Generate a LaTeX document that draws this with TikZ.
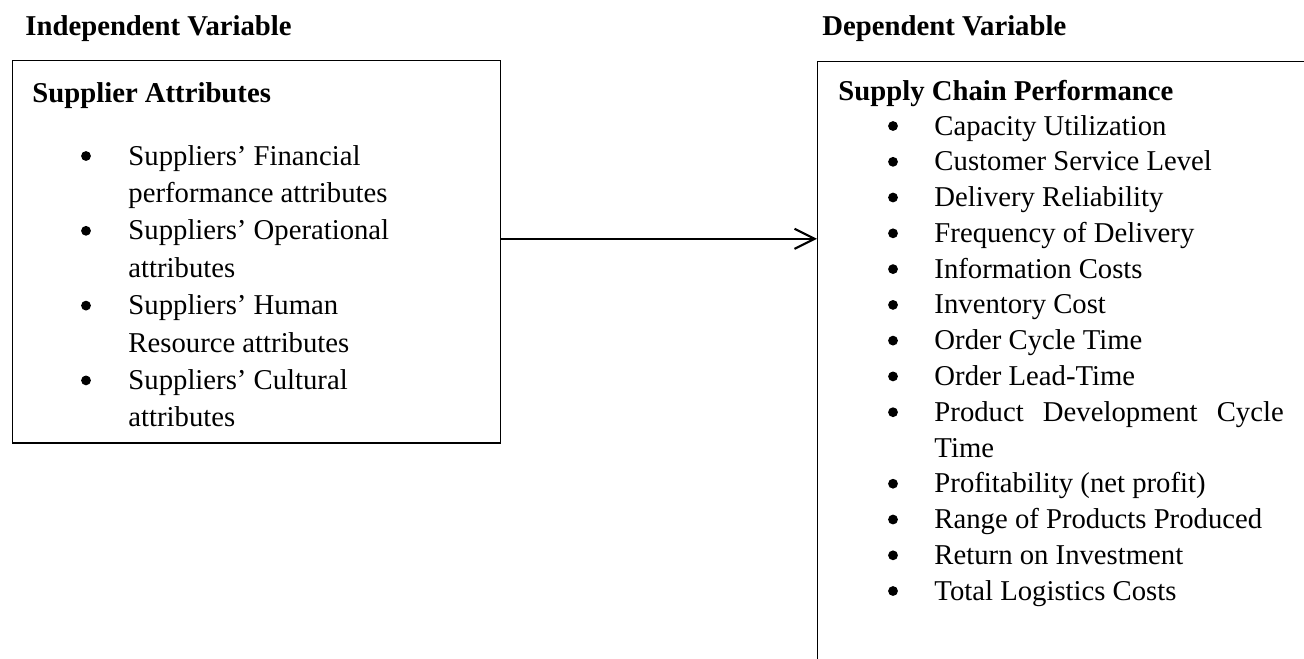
\documentclass[tikz,border=0pt]{standalone}
\usepackage{fontspec}
\setmainfont{Liberation Serif}
\usetikzlibrary{arrows.meta}

\tikzset{
    frame/.style={draw, line width=0.6pt, anchor=north west, inner sep=0pt},
    heading/.style={anchor=base west, inner sep=0pt, font=\fontsize{12}{14}\selectfont\bfseries},
    entry/.style={anchor=base west, inner sep=0pt, font=\fontsize{12}{14}\selectfont},
    dot/.style={circle, fill, inner sep=0pt, minimum size=4.1pt},
    link/.style={-{Straight Barb[length=8.4pt, width=8.4pt]}, line width=0.9pt}
}

\begin{document}
\begin{tikzpicture}[x=0.418pt, y=-0.418pt]
    \useasboundingbox (0,0) rectangle (1304,658);
    \clip (0,0) rectangle (1304,658);
    % Headings
    \node[heading] (indep) at (25,35) {Independent Variable};
    \node[heading] (dep) at (822,35) {Dependent Variable};
    % Boxes
    \node[frame, minimum width=204pt, minimum height=159.7pt] (suppbox) at (12,60) {};
    \node[frame, minimum width=220pt, minimum height=260pt] (perfbox) at (817,61) {};
    % Left box: supplier attributes
    \node[heading] (supptitle) at (32,102) {Supplier Attributes};
    \node[dot] (sb1) at (86,156) {};
    \node[entry] (s1a) at (128,165) {Suppliers’ Financial};
    \node[entry] (s1b) at (128,202.4) {performance attributes};
    \node[dot] (sb2) at (86,230.8) {};
    \node[entry] (s2a) at (128,239.8) {Suppliers’ Operational};
    \node[entry] (s2b) at (128,277.2) {attributes};
    \node[dot] (sb3) at (86,305.6) {};
    \node[entry] (s3a) at (128,314.6) {Suppliers’ Human};
    \node[entry] (s3b) at (128,352) {Resource attributes};
    \node[dot] (sb4) at (86,380.4) {};
    \node[entry] (s4a) at (128,389.4) {Suppliers’ Cultural};
    \node[entry] (s4b) at (128,426.8) {attributes};
    % Right box: supply chain performance
    \node[heading] (perftitle) at (838,100) {Supply Chain Performance};
    \node[dot] (pb1) at (893,126) {};
    \node[entry] (p1) at (934,135) {Capacity Utilization};
    \node[dot] (pb2) at (893,161.8) {};
    \node[entry] (p2) at (934,170.8) {Customer Service Level};
    \node[dot] (pb3) at (893,197.5) {};
    \node[entry] (p3) at (934,206.5) {Delivery Reliability};
    \node[dot] (pb4) at (893,233.3) {};
    \node[entry] (p4) at (934,242.3) {Frequency of Delivery};
    \node[dot] (pb5) at (893,269.1) {};
    \node[entry] (p5) at (934,278.1) {Information Costs};
    \node[dot] (pb6) at (893,304.9) {};
    \node[entry] (p6) at (934,313.9) {Inventory Cost};
    \node[dot] (pb7) at (893,340.6) {};
    \node[entry] (p7) at (934,349.6) {Order Cycle Time};
    \node[dot] (pb8) at (893,376.4) {};
    \node[entry] (p8) at (934,385.4) {Order Lead-Time};
    \node[dot] (pb9) at (893,412.2) {};
    \node[entry] (p9a) at (934,421.2) {\makebox[146pt][s]{Product Development Cycle}};
    \node[entry] (p9b) at (934,457) {Time};
    \node[dot] (pb10) at (893,483.7) {};
    \node[entry] (p10) at (934,492.7) {Profitability (net profit)};
    \node[dot] (pb11) at (893,519.5) {};
    \node[entry] (p11) at (934,528.5) {Range of Products Produced};
    \node[dot] (pb12) at (893,555.3) {};
    \node[entry] (p12) at (934,564.3) {Return on Investment};
    \node[dot] (pb13) at (893,591) {};
    \node[entry] (p13) at (934,600) {Total Logistics Costs};
    % Arrow
    \coordinate (arrowfrom) at ([yshift=5.4pt]suppbox.east);
    \draw[link] (arrowfrom) -- (arrowfrom -| perfbox.west);
\end{tikzpicture}
\end{document}
